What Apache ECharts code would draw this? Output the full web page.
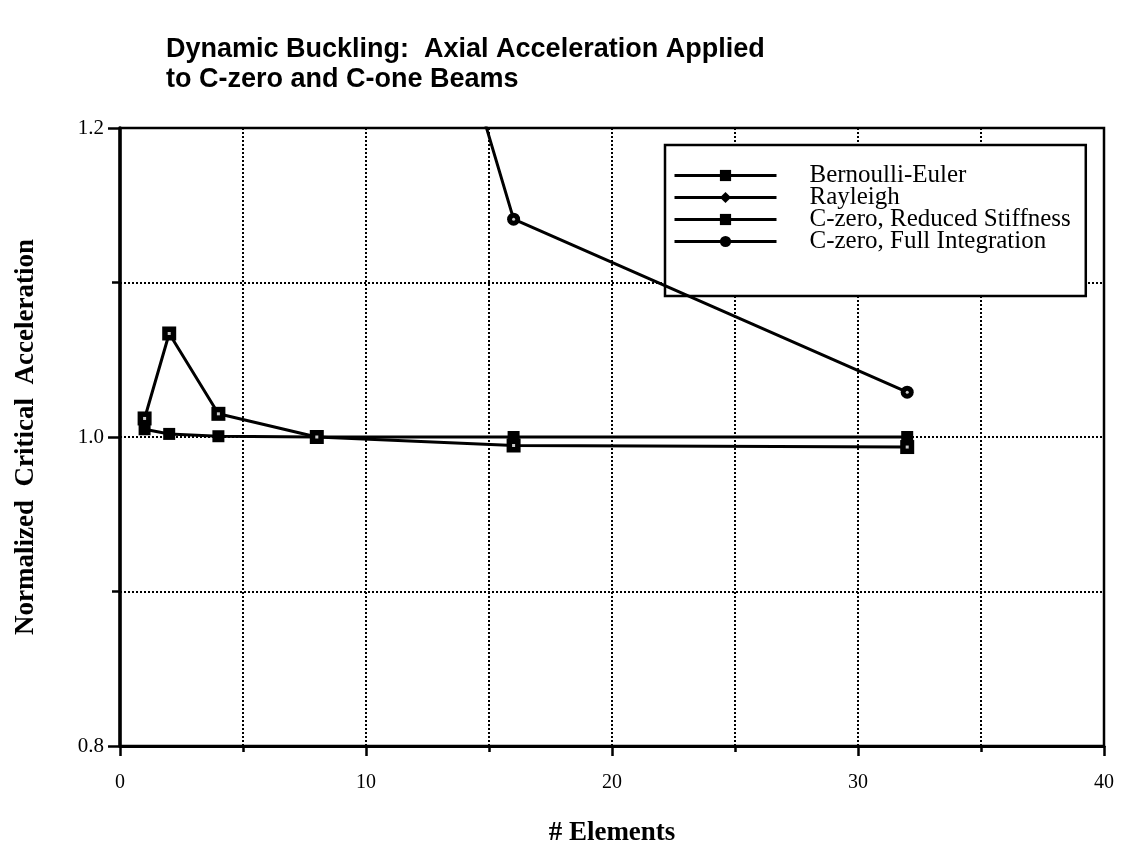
<!DOCTYPE html>
<html>
<head>
<meta charset="utf-8">
<script src="https://cdn.jsdelivr.net/npm/echarts@6/dist/echarts.min.js"></script>
<style>
html,body{margin:0;padding:0;background:#fff;}
#chart{width:1124px;height:860px;}
</style>
</head>
<body>
<div id="chart"></div>
<script>
// ---- data ----
const elements = [1, 2, 4, 8, 16, 32];
const bernoulliEuler = [1.005, 1.002, 1.0005, 1.0, 1.0, 1.0];
const rayleigh = [];
const czeroReduced = [1.012, 1.067, 1.015, 1.0, 0.9945, 0.9935];
const fullIntElements = [8, 16, 32];
const czeroFull = [1.57, 1.141, 1.029];
const seriesNames = ['Bernoulli-Euler', 'Rayleigh', 'C-zero, Reduced Stiffness', 'C-zero, Full Integration'];
const titleText = 'Dynamic Buckling:  Axial Acceleration Applied\nto C-zero and C-one Beams';
const xName = '# Elements';
const yName = 'Normalized  Critical  Acceleration';

function pairs(xs, ys) { return ys.map((y, i) => [xs[i], y]); }

const chart = echarts.init(document.getElementById('chart'), null, {renderer: 'canvas'});
const lineStyle = {color: '#000', width: 3};
const serif = 'Liberation Serif, Times New Roman, serif';

function dots(name, data, shape, z) {
  return {
    name: name + ' marks', type: 'scatter', data: data, symbol: shape, symbolSize: 3,
    itemStyle: {color: '#fff'}, silent: true, z: z, clip: true
  };
}

chart.setOption({
  backgroundColor: '#fff',
  animation: false,
  title: {
    text: titleText,
    left: 161, top: 30,
    textStyle: {fontFamily: 'Liberation Sans, Arial, sans-serif', fontWeight: 'bold', fontSize: 27, lineHeight: 30, color: '#000'}
  },
  legend: {
    data: seriesNames,
    orient: 'vertical',
    left: 665, top: 145,
    padding: [18, 15, 42, 8],
    itemGap: -3,
    itemWidth: 102,
    itemHeight: 14,
    backgroundColor: '#fff',
    borderColor: '#000',
    borderWidth: 2.5,
    borderRadius: 0,
    lineStyle: {width: 3, color: '#000'},
    textStyle: {fontFamily: serif, fontSize: 25, color: '#000', padding: [0, 0, 0, 28]},
    selectedMode: false
  },
  grid: {
    left: 120, right: 20, top: 128, bottom: 114,
    show: true, borderColor: '#000', borderWidth: 2.5, backgroundColor: 'transparent'
  },
  xAxis: {
    type: 'value', min: 0, max: 40, interval: 10,
    name: xName, nameLocation: 'middle', nameGap: 74,
    nameTextStyle: {fontFamily: serif, fontWeight: 'bold', fontSize: 27, color: '#000'},
    axisLine: {show: true, lineStyle: {color: '#000', width: 3}},
    axisTick: {show: true, inside: false, length: 10, lineStyle: {color: '#000', width: 2.5}},
    minorTick: {show: true, splitNumber: 2, length: 6, lineStyle: {color: '#000', width: 2.5}},
    axisLabel: {fontFamily: serif, fontSize: 20, color: '#000', margin: 27},
    splitLine: {show: true, lineStyle: {color: '#000', type: 'dotted', width: 2}},
    minorSplitLine: {show: true, lineStyle: {color: '#000', type: 'dotted', width: 2}}
  },
  yAxis: {
    type: 'value', min: 0.8, max: 1.2, interval: 0.2,
    name: yName, nameLocation: 'middle', nameGap: 80, nameRotate: 90,
    nameTextStyle: {fontFamily: serif, fontWeight: 'bold', fontSize: 27, color: '#000'},
    axisLine: {show: true, lineStyle: {color: '#000', width: 3.5}},
    axisTick: {show: true, inside: false, length: 12, lineStyle: {color: '#000', width: 2.5}},
    minorTick: {show: true, splitNumber: 2, length: 8, lineStyle: {color: '#000', width: 2.5}},
    axisLabel: {fontFamily: serif, fontSize: 21, color: '#000', margin: 16, formatter: v => v.toFixed(1)},
    splitLine: {show: true, lineStyle: {color: '#000', type: 'dotted', width: 2}},
    minorSplitLine: {show: true, lineStyle: {color: '#000', type: 'dotted', width: 2}}
  },
  series: [
    {
      name: seriesNames[0], type: 'line', data: pairs(elements, bernoulliEuler),
      symbol: 'rect', symbolSize: 12, showAllSymbol: true,
      lineStyle: lineStyle, itemStyle: {color: '#000'}, clip: true, z: 3
    },
    {
      name: seriesNames[1], type: 'line', data: pairs(elements, rayleigh),
      symbol: 'diamond', symbolSize: 12,
      lineStyle: lineStyle, itemStyle: {color: '#000'}, clip: true, z: 3
    },
    {
      name: seriesNames[2], type: 'line', data: pairs(elements, czeroReduced),
      symbol: 'rect', symbolSize: 14, showAllSymbol: true,
      lineStyle: lineStyle, itemStyle: {color: '#000'}, clip: true, z: 4
    },
    {
      name: seriesNames[3], type: 'line', data: pairs(fullIntElements, czeroFull),
      symbol: 'circle', symbolSize: 13, showAllSymbol: true,
      lineStyle: lineStyle, itemStyle: {color: '#000'}, clip: true, z: 4
    },
    dots(seriesNames[2], pairs(elements, czeroReduced), 'rect', 6),
    dots(seriesNames[3], pairs(fullIntElements, czeroFull), 'circle', 6)
  ]
});
</script>
</body>
</html>
